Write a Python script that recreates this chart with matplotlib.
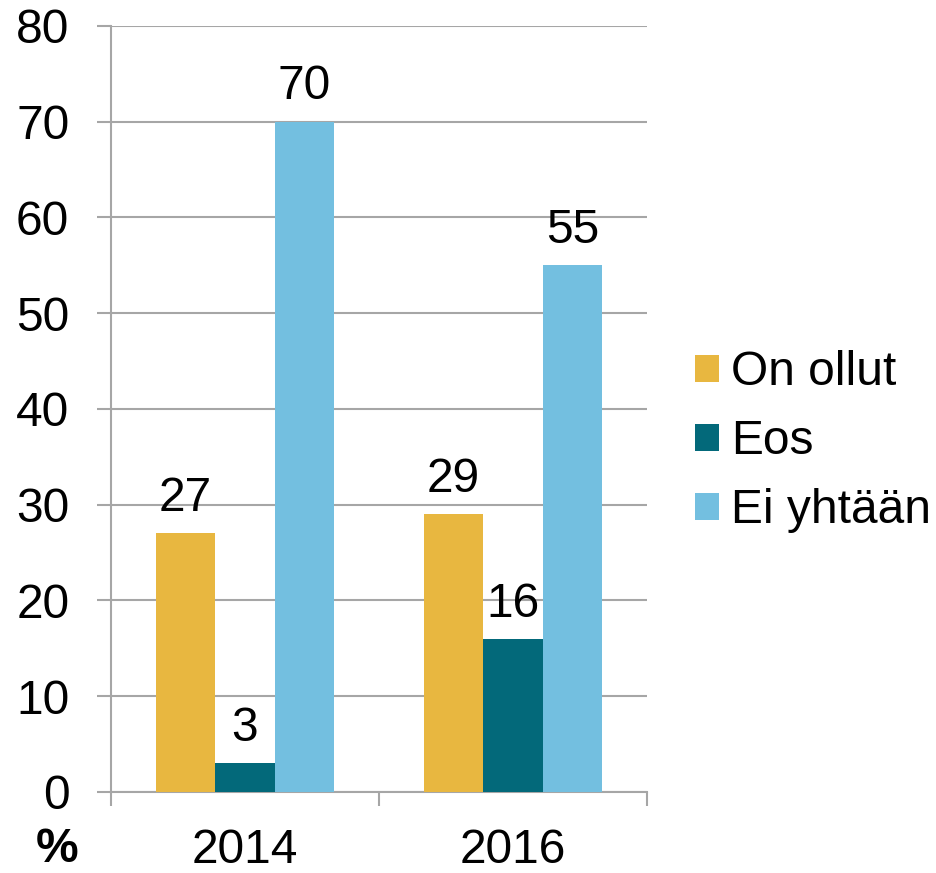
import matplotlib.pyplot as plt
import numpy as np

years = ['2014', '2016']
series = ['On ollut', 'Eos', 'Ei yhtään']
on_ollut = [27, 29]
eos = [3, 16]
ei_yhtaan = [70, 55]
colors = ['#E8B740', '#03697A', '#73BFE0']

plt.rcParams['font.family'] = ['Liberation Sans', 'DejaVu Sans']
fs = 34.5

fig = plt.figure(figsize=(9.37, 8.73), dpi=100)
ax = fig.add_axes([0.1185, 0.0928, 0.572, 0.8775])

x = np.arange(len(years))
w = 0.222
grid_col = '#A6A6A6'

for i, (vals, name) in enumerate(zip([on_ollut, eos, ei_yhtaan], series)):
    pos = x + (i - 1) * w
    bars = ax.bar(pos, vals, w, color=colors[i], label=name, zorder=3)
    for b, v in zip(bars, vals):
        ax.annotate(str(v), (b.get_x() + b.get_width() / 2, v),
                    xytext=(0, 16), textcoords='offset points',
                    ha='center', va='baseline', fontsize=fs)

ax.set_ylim(0, 80)
ax.set_xlim(-0.5, 1.5)
ax.set_yticks(range(0, 81, 10))
ax.yaxis.grid(True, color=grid_col, linewidth=1.5, zorder=0)
ax.tick_params(axis='y', labelsize=fs, length=10, width=1.5, color=grid_col, pad=20)

ax.set_xticks(x)
ax.set_xticklabels(years)
ax.tick_params(axis='x', which='major', labelsize=fs, length=0, pad=26)
ax.set_xticks([-0.5, 0.5, 1.5], minor=True)
ax.tick_params(axis='x', which='minor', length=10, width=1.5, color=grid_col)

for s in ['top', 'right']:
    ax.spines[s].set_visible(False)
for s in ['left', 'bottom']:
    ax.spines[s].set_color(grid_col)
    ax.spines[s].set_linewidth(1.5)

fig.text(0.061, 0.001, '%', fontsize=fs, fontweight='bold', ha='center', va='bottom')

ax.legend(loc='center left', bbox_to_anchor=(0.7417, 0.494), bbox_transform=fig.transFigure,
          frameon=False, fontsize=fs, handlelength=0.5, handleheight=0.5,
          handletextpad=0.25, labelspacing=0.5, borderaxespad=0, borderpad=0)

fig.savefig('out.png', dpi=100)
